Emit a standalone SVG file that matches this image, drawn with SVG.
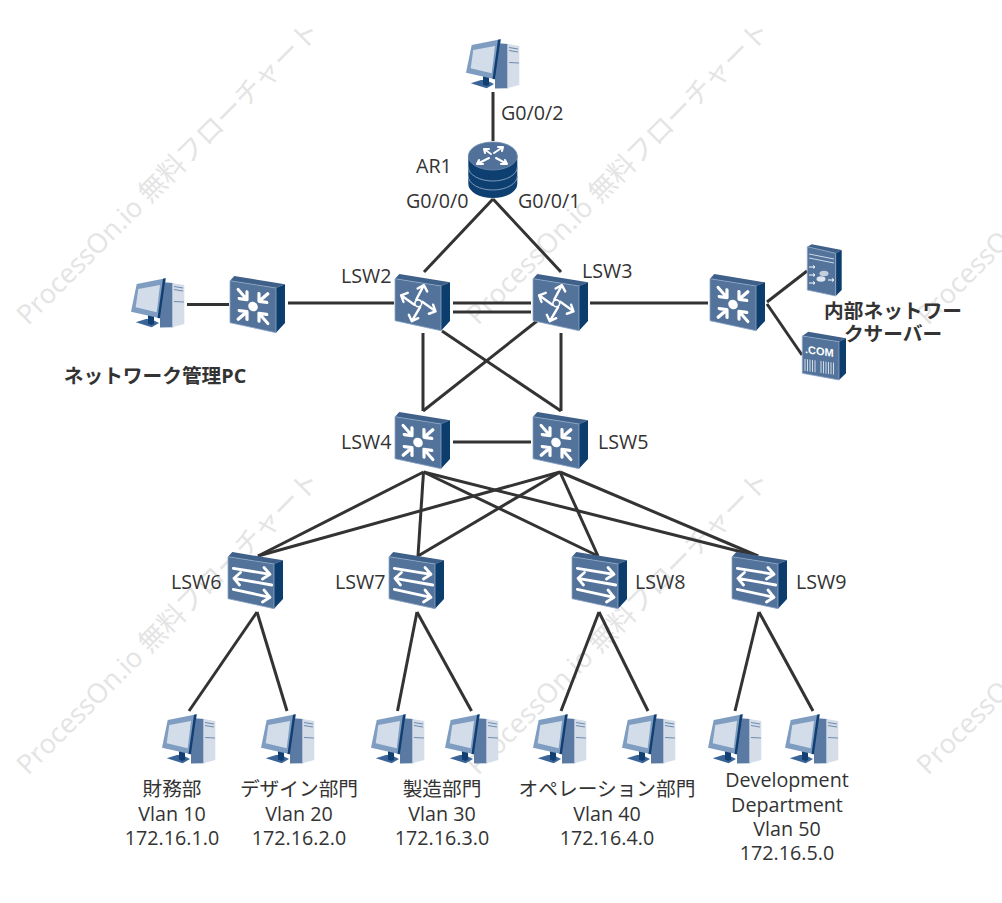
<svg xmlns="http://www.w3.org/2000/svg" width="1002" height="903" viewBox="0 0 1002 903">
<style>
text{font-family:"Open Sans","Noto Sans CJK JP",sans-serif;font-size:19.700px;fill:#333}
.b{font-weight:700}
.m{text-anchor:middle}
.wm{font-size:27px;fill:#e4e4e4}
.c line{stroke:#333;stroke-width:3;fill:none}
.g{stroke:#fff;fill:none;stroke-linecap:round;stroke-linejoin:round}
.face{fill:#54739b;stroke:#8ba6c6;stroke-width:.8}
.top{fill:#3f6089}
.side{fill:#0c3d6d}
</style>
<defs>
<symbol id="pc" viewBox="0 0 54 52" width="54" height="52" overflow="visible">
<path d="M29,5 L42.3,6 V50.3 L29,50.5Z" fill="#5a7aa3"/>
<path d="M41.3,6 L53.3,8 V47 L41.3,50.3Z" fill="#d4dde8"/>
<path d="M43,9.5 L52,11 M43,12.5 L52,14 M43,24.5 L53,25" stroke="#6f8db0" stroke-width="1.2"/>
<path d="M4.7,45.3 L15,42 L20,42 L28,46 L20.7,50.3Z" fill="#3b6598"/>
<path d="M17,38 H23 V47 L20,48 L17,46.5Z" fill="#123f72"/>
<path d="M34.7,1.3 L5.7,7 L0,34.7 L29,41.3Z" fill="#7f9dc1"/>
<path d="M7.3,12 L29,8 L25.7,35.3 L4.7,30.3Z" fill="#d3dde9"/>
<path d="M34.7,1.3 L32,1.8 L26.5,41 L29,41.3Z" fill="#123f72"/>
</symbol>
<symbol id="box" viewBox="0 0 56 57" width="56" height="57" overflow="visible">
<path class="top" d="M4.3,0 L55,8.3 L46,12 L0,4.7Z"/>
<path class="side" d="M46,12 L55,8.3 V47 L46,56.7Z"/>
<path class="face" d="M0,4.7 L46,12 V56.7 L0,46.7Z"/>
</symbol>
<g id="inward">
<path d="M-21,0 H-9 M-14,-5.500 L-8.500,0 L-14,5.500" class="g" stroke-width="3.200"/>
</g>
<symbol id="l3" viewBox="0 0 56 57" width="56" height="57" overflow="visible">
<use href="#box"/>
<g transform="translate(23,30.5) skewY(8)">
<circle r="4.8" fill="#fff"/>
<use href="#inward" transform="rotate(45)"/>
<use href="#inward" transform="rotate(135)"/>
<use href="#inward" transform="rotate(225)"/>
<use href="#inward" transform="rotate(315)"/>
</g>
</symbol>
<g id="outward">
<path d="M-3,-3 L0,-19 M-5,-14 L0,-19 L5,-14" class="g" stroke-width="2.400"/>
</g>
<symbol id="l3r" viewBox="0 0 56 57" width="56" height="57" overflow="visible">
<use href="#box"/>
<g transform="translate(23.3,29.3)">
<use href="#outward" transform="rotate(17)"/>
<use href="#outward" transform="rotate(115)"/>
<use href="#outward" transform="rotate(200)"/>
<use href="#outward" transform="rotate(295)"/>
<circle r="3.4" fill="#54739b" stroke="#fff" stroke-width="1.6"/>
</g>
</symbol>
<symbol id="l2" viewBox="0 0 56 57" width="56" height="57" overflow="visible">
<use href="#box"/>
<path class="g" stroke-width="2.8" d="M5.3,16.3 L42,22.3 M36,15.5 L42,22.3 L34.5,27 M43.7,33 L6,26.3 M12.5,20.5 L6,26.3 L11.5,33 M5.3,37.3 L42,45.3 M36,38 L42,45.3 L34.5,50"/>
</symbol>
</defs>

<g id="watermark">
<text class="wm" transform="translate(28,326) rotate(-45)">ProcessOn.io 無料フローチャート</text>
<text class="wm" transform="translate(478,326) rotate(-45)">ProcessOn.io 無料フローチャート</text>
<text class="wm" transform="translate(928,326) rotate(-45)">ProcessOn.io 無料フローチャート</text>
<text class="wm" transform="translate(28,776) rotate(-45)">ProcessOn.io 無料フローチャート</text>
<text class="wm" transform="translate(478,776) rotate(-45)">ProcessOn.io 無料フローチャート</text>
<text class="wm" transform="translate(928,776) rotate(-45)">ProcessOn.io 無料フローチャート</text>
</g>

<g id="connectors" class="c">
<line x1="493" y1="92" x2="493" y2="141"/>
<line x1="493" y1="199" x2="424" y2="272"/>
<line x1="493" y1="199" x2="561" y2="272"/>
<line x1="187" y1="304.5" x2="229" y2="304.5"/>
<line x1="288" y1="303" x2="394" y2="303"/>
<line x1="453" y1="303" x2="531" y2="303"/>
<line x1="453" y1="312" x2="531" y2="312"/>
<line x1="590" y1="303" x2="708" y2="303"/>
<line x1="767" y1="302" x2="807" y2="271"/>
<line x1="767" y1="304" x2="802" y2="355"/>
<line x1="423" y1="333" x2="423" y2="411"/>
<line x1="561" y1="333" x2="561" y2="411"/>
<line x1="442" y1="331" x2="561" y2="411"/>
<line x1="537" y1="321" x2="423" y2="411"/>
<line x1="453" y1="442" x2="531" y2="442"/>
<line x1="423.5" y1="472" x2="258" y2="556"/>
<line x1="423.5" y1="472" x2="418" y2="556"/>
<line x1="423.5" y1="472" x2="598" y2="556"/>
<line x1="423.5" y1="472" x2="758" y2="556"/>
<line x1="560" y1="472" x2="258" y2="556"/>
<line x1="560" y1="472" x2="418" y2="556"/>
<line x1="560" y1="472" x2="598" y2="556"/>
<line x1="560" y1="472" x2="758" y2="556"/>
<line x1="257" y1="612" x2="189" y2="711"/>
<line x1="257" y1="612" x2="287" y2="711"/>
<line x1="417" y1="612" x2="397.500" y2="711"/>
<line x1="417" y1="612" x2="471.500" y2="711"/>
<line x1="599" y1="612" x2="561" y2="711"/>
<line x1="599" y1="612" x2="648" y2="711"/>
<line x1="759" y1="612" x2="735" y2="711"/>
<line x1="759" y1="612" x2="813" y2="711"/>
</g>

<g id="pc-top"><use href="#pc" x="466" y="38"/><text x="501" y="120">G0/0/2</text></g>
<g id="AR1">
<path d="M468.300,156 V184 A24.500,14 0 0 0 517.300,184 V156Z" fill="#0d3f70"/>
<path d="M468.300,167 A24.500,14 0 0 0 517.300,167 M468.300,176 A24.500,14 0 0 0 517.300,176" fill="none" stroke="#7d9abb" stroke-width="1"/>
<ellipse cx="492.800" cy="156" rx="24.500" ry="14" fill="#51709a" stroke="#6f8db0" stroke-width=".8"/>
<path class="g" stroke-width="2" d="M484,149 L491,154 M484,149 h5 M484,149 l1,4 M503,147 L494,153 M503,147 h-5 M503,147 l-1,4 M477,164 L489,158 M477,164 h6 M477,164 l2,-4 M507,164 L496,158 M507,164 h-6 M507,164 l-2,-4"/>
<text x="416" y="173">AR1</text>
<text x="406" y="208">G0/0/0</text>
<text x="518" y="208">G0/0/1</text>
</g>
<g id="pc-mgmt"><use href="#pc" x="131" y="277"/><text class="b m" x="155" y="383">ネットワーク管理PC</text></g>
<g id="sw-mgmt"><use href="#l3" x="230" y="276"/></g>
<g id="LSW2"><use href="#l3r" x="395" y="274"/><text x="341" y="283">LSW2</text></g>
<g id="LSW3"><use href="#l3r" x="533" y="274"/><text x="582" y="278">LSW3</text></g>
<g id="sw-right"><use href="#l3" x="710" y="274"/></g>
<g id="server-db">
<path class="top" d="M811.700,244.300 L841.700,250 L835.700,253.300 L807.300,246.700Z"/>
<path class="side" d="M835.700,253.300 L841.700,250 V290 L835.700,296Z"/>
<path class="face" d="M807.300,246.700 L835.700,253.300 V296 L807.300,290Z"/>
<path d="M809,254 L834,259 M809,258 L834,263" stroke="#d8e2ee" stroke-width=".9" fill="none"/>
<path d="M809,267 h5 M809,275 h5 M809,283 h5 M813,265.500 l2,1.500 l-2,1.500 M813,273.500 l2,1.500 l-2,1.500 M813,281.500 l2,1.500 l-2,1.500 M828,280 h5 M832,278.500 l2,1.500 l-2,1.500" stroke="#fff" stroke-width="1" fill="none"/>
<ellipse cx="824" cy="273.500" rx="4.500" ry="2.800" fill="#c3cfdd"/>
<ellipse cx="821" cy="279" rx="4.500" ry="2.800" fill="#dfe6ef"/>
</g>
<g id="server-com">
<path class="top" d="M808.300,331.700 L846,338.300 L839,341.700 L802.300,336Z"/>
<path class="side" d="M839,341.700 L846,338.300 V373.300 L839,380Z"/>
<path class="face" d="M802.300,336 L839,341.700 V380 L802.300,373.300Z"/>
<text transform="matrix(1,.14,0,1,805,353)" style="font-family:'Liberation Sans',sans-serif;font-size:11px;font-weight:700;fill:#fff">.COM</text>
<path d="M805,359 V371 M807.500,359.300 V371.300 M810,359.600 V371.600 M812.500,360 V372 M815,360.300 V372.300 M821,361 V373 M823.500,361.300 V373.300 M826,361.600 V373.600 M828.500,362 V374 M831,362.300 V374.300 M833.500,362.600 V374.600" stroke="#dfe7f0" stroke-width=".9"/>
<text class="b m" x="893" y="318">内部ネットワー</text>
<text class="b m" x="893" y="341">クサーバー</text>
</g>
<g id="LSW4"><use href="#l3" x="395" y="412"/><text x="341" y="449">LSW4</text></g>
<g id="LSW5"><use href="#l3" x="533" y="412"/><text x="598" y="449">LSW5</text></g>
<g id="LSW6"><use href="#l2" x="228" y="552"/><text x="171" y="589">LSW6</text></g>
<g id="LSW7"><use href="#l2" x="389" y="552"/><text x="335" y="589">LSW7</text></g>
<g id="LSW8"><use href="#l2" x="572" y="552"/><text x="635" y="589">LSW8</text></g>
<g id="LSW9"><use href="#l2" x="732" y="552"/><text x="796" y="589">LSW9</text></g>

<g id="pc1"><use href="#pc" x="162" y="713"/></g>
<g id="pc2"><use href="#pc" x="261" y="713"/></g>
<g id="pc3"><use href="#pc" x="371" y="713"/></g>
<g id="pc4"><use href="#pc" x="445" y="713"/></g>
<g id="pc5"><use href="#pc" x="533" y="713"/></g>
<g id="pc6"><use href="#pc" x="622" y="713"/></g>
<g id="pc7"><use href="#pc" x="708" y="713"/></g>
<g id="pc8"><use href="#pc" x="785" y="713"/></g>

<g id="label-vlan10"><text class="m" x="172" y="796">財務部</text><text class="m" x="172" y="821">Vlan 10</text><text class="m" x="172" y="845">172.16.1.0</text></g>
<g id="label-vlan20"><text class="m" x="299" y="796">デザイン部門</text><text class="m" x="299" y="821">Vlan 20</text><text class="m" x="299" y="845">172.16.2.0</text></g>
<g id="label-vlan30"><text class="m" x="442" y="796">製造部門</text><text class="m" x="442" y="821">Vlan 30</text><text class="m" x="442" y="845">172.16.3.0</text></g>
<g id="label-vlan40"><text class="m" x="607" y="796">オペレーション部門</text><text class="m" x="607" y="821">Vlan 40</text><text class="m" x="607" y="845">172.16.4.0</text></g>
<g id="label-vlan50"><text class="m" x="787" y="787">Development</text><text class="m" x="787" y="812">Department</text><text class="m" x="787" y="836">Vlan 50</text><text class="m" x="787" y="860">172.16.5.0</text></g>
</svg>
